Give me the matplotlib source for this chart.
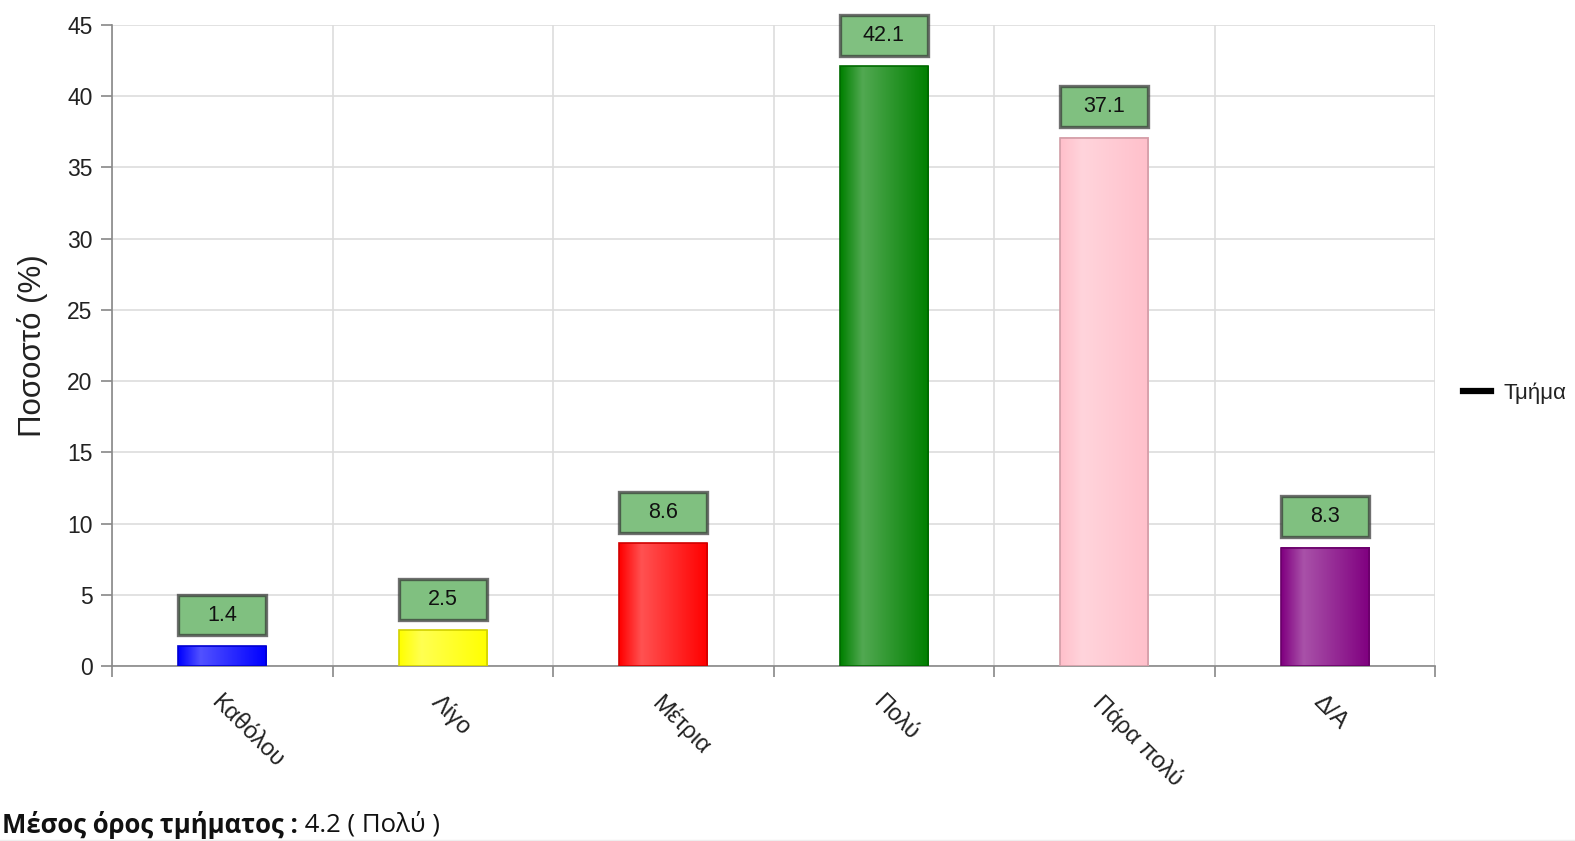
import numpy as np
import matplotlib
matplotlib.use("Agg")
import matplotlib.pyplot as plt
from matplotlib import colors as mcolors
from matplotlib.patches import Rectangle
from matplotlib.lines import Line2D

# data
categories = ["Καθόλου", "Λίγο", "Μέτρια", "Πολύ", "Πάρα πολύ", "Δ/Α"]
values     = [1.4, 2.5, 8.6, 42.1, 37.1, 8.3]
bar_colors = ["#0000ff", "#ffff00", "#ff0000", "#008000", "#ffc0cb", "#800080"]
series_name = "Τμήμα"
footer_bold = "Μέσος όρος τμήματος :"
footer_rest = " 4.2 ( Πολύ )"

plt.rcParams['font.family'] = ['Liberation Sans', 'DejaVu Sans']

W, H = 1575, 841
fig = plt.figure(figsize=(W / 100, H / 100), dpi=100)
ax = fig.add_axes([112 / W, 1 - 666 / H, (1435 - 112) / W, (666 - 25) / H])

bar_w = 0.4
x = np.arange(len(categories))

def gradient(col, n=64):
    base = np.array(mcolors.to_rgb(col))
    t = np.linspace(0, 1, n)
    # light streak a quarter of the way in, fading back to the base colour
    light = np.where(t < 0.25, t / 0.25, 1 - (t - 0.25) / 0.75) * 0.32
    rows = base + (1 - base) * light[:, None]
    return rows[None, :, :]

for i, (v, c) in enumerate(zip(values, bar_colors)):
    ax.imshow(gradient(c), extent=(i - bar_w / 2, i + bar_w / 2, 0, v),
              aspect='auto', interpolation='bilinear', zorder=3)
    edge = np.array(mcolors.to_rgb(c)) * 0.82
    ax.add_patch(Rectangle((i - bar_w / 2, 0), bar_w, v, fill=False,
                           edgecolor=edge, lw=1.2, zorder=4))
    # value box above bar
    ax.add_patch(Rectangle((i - bar_w / 2, v + 0.75), bar_w, 2.85,
                           facecolor="#80c080", edgecolor=(0.2, 0.2, 0.2, 0.7),
                           lw=2.4, zorder=5, clip_on=False))
    ax.text(i, v + 0.75 + 1.42, f"{v}", ha='center', va='center',
            fontsize=15.5, color='#111111', zorder=6, clip_on=False)

ax.set_xlim(-0.5, len(categories) - 0.5)
ax.set_ylim(0, 45)
ax.set_yticks(np.arange(0, 46, 5))
ax.set_xticks(x)
ax.set_xticklabels(categories, rotation=-45, ha='left', va='top',
                   rotation_mode='anchor', fontsize=17, color='#222222')
ax.set_xticks(np.arange(-0.5, len(categories), 1), minor=True)
ax.tick_params(axis='x', which='major', length=0, pad=18)
ax.tick_params(axis='x', which='minor', length=8, color='#888888', width=1.2)
ax.tick_params(axis='y', length=8, color='#888888', width=1.2,
               labelsize=16.5, labelcolor='#222222', pad=6)

ax.grid(axis='y', which='major', color='#dddddd', lw=1.2, zorder=0)
ax.grid(axis='x', which='minor', color='#dddddd', lw=1.2, zorder=0)
ax.set_axisbelow(True)
for s in ['top', 'right']:
    ax.spines[s].set_visible(False)
for s in ['left', 'bottom']:
    ax.spines[s].set_color('#888888')
    ax.spines[s].set_linewidth(1.2)
    ax.spines[s].set_zorder(2)

ax.set_ylabel("Ποσοστό (%)", fontsize=22.5, color='#222222', labelpad=14)

handle = Line2D([], [], color='black', lw=4.5)
fig.legend([handle], [series_name], loc='center left',
           bbox_to_anchor=(1443 / W, 1 - 393 / H), frameon=False,
           fontsize=16, handlelength=1.25, handletextpad=0.55,
           labelcolor='#222222')

# footer
fig.canvas.draw()
t1 = fig.text(2 / W, 1 - 825 / H, footer_bold, fontsize=18.5, fontweight='bold',
              family='Open Sans', va='center', ha='left', color='#111111')
fig.canvas.draw()
bb = t1.get_window_extent()
fig.text(bb.x1 / W, 1 - 825 / H, footer_rest, fontsize=18.5, family='Open Sans',
         va='center', ha='left', color='#111111')
fig.add_artist(Line2D([0, 1], [1 - 839.5 / H] * 2, color='#eeeeee', lw=1))

fig.savefig("out.png", dpi=100)
